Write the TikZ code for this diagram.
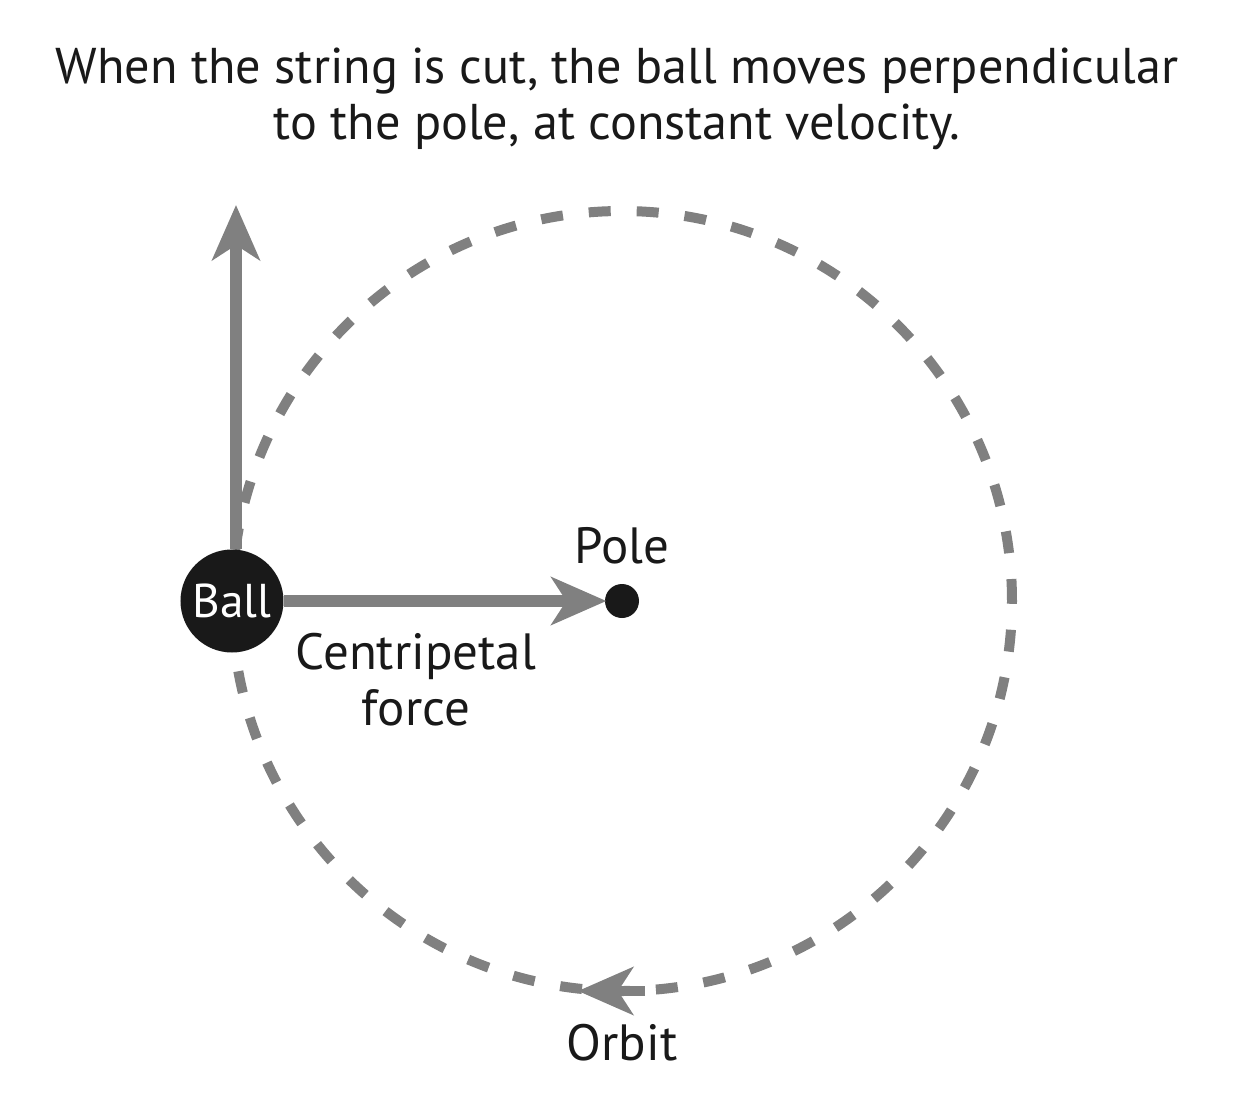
\documentclass[tikz,border=0pt]{standalone}
\usepackage{fontspec}
\setmainfont{PT Sans}
\usepackage{xcolor}
\usetikzlibrary{arrows.meta,positioning}
\definecolor{arrowgray}{RGB}{128,128,128}
\tikzset{
  force/.style={draw=arrowgray, line width=0.24cm, -{Stealth[length=1.1cm,width=0.95cm,inset=0.3cm]}},
  orbit/.style={draw=arrowgray, line width=0.2cm, dash pattern=on 0.44cm off 0.52cm},
  annot/.style={font=\fontsize{29}{32}\selectfont, align=center, text=black!90}
}

\begin{document}
\begin{tikzpicture}
    \useasboundingbox (-12.44,12.02) rectangle (12.56,-10.14);

    % Title
    \node[font=\fontsize{28.6}{32}\selectfont, align=center, text=black!90] (title) at (-0.1,10.04)
        {When the string is cut, the ball moves perpendicular\\to the pole, at constant velocity.};

    % Orbit
    \draw[orbit] (0,0) circle (7.8);
    \coordinate (orbittail) at (0.46,-7.8);
    \coordinate (orbittip) at (-0.88,-7.8);
    \draw[force, line width=0.2cm] (orbittail) -- (orbittip);
    \node[annot] (orbitlbl) at (0,-8.84) {Orbit};

    % Ball and pole
    \node[circle, fill=black!90, minimum size=2.06cm, inner sep=0pt, text=white,
          font=\fontsize{27}{30}\selectfont] (ball) at (-7.8,0) {Ball};
    \node[circle, fill=black!90, minimum size=0.68cm, inner sep=0pt] (pole) at (0,0) {};
    \node[annot] (polelbl) at (0,1.1) {Pole};

    % Forces
    \coordinate (cut) at (-7.72,7.92);
    \draw[force] (ball.north -| cut) -- (cut);
    \draw[force, shorten >=-1pt] (ball) -- (pole);
    \node[annot] (forcelbl) at (-4.12,-1.58) {Centripetal\\force};
\end{tikzpicture}
\end{document}
